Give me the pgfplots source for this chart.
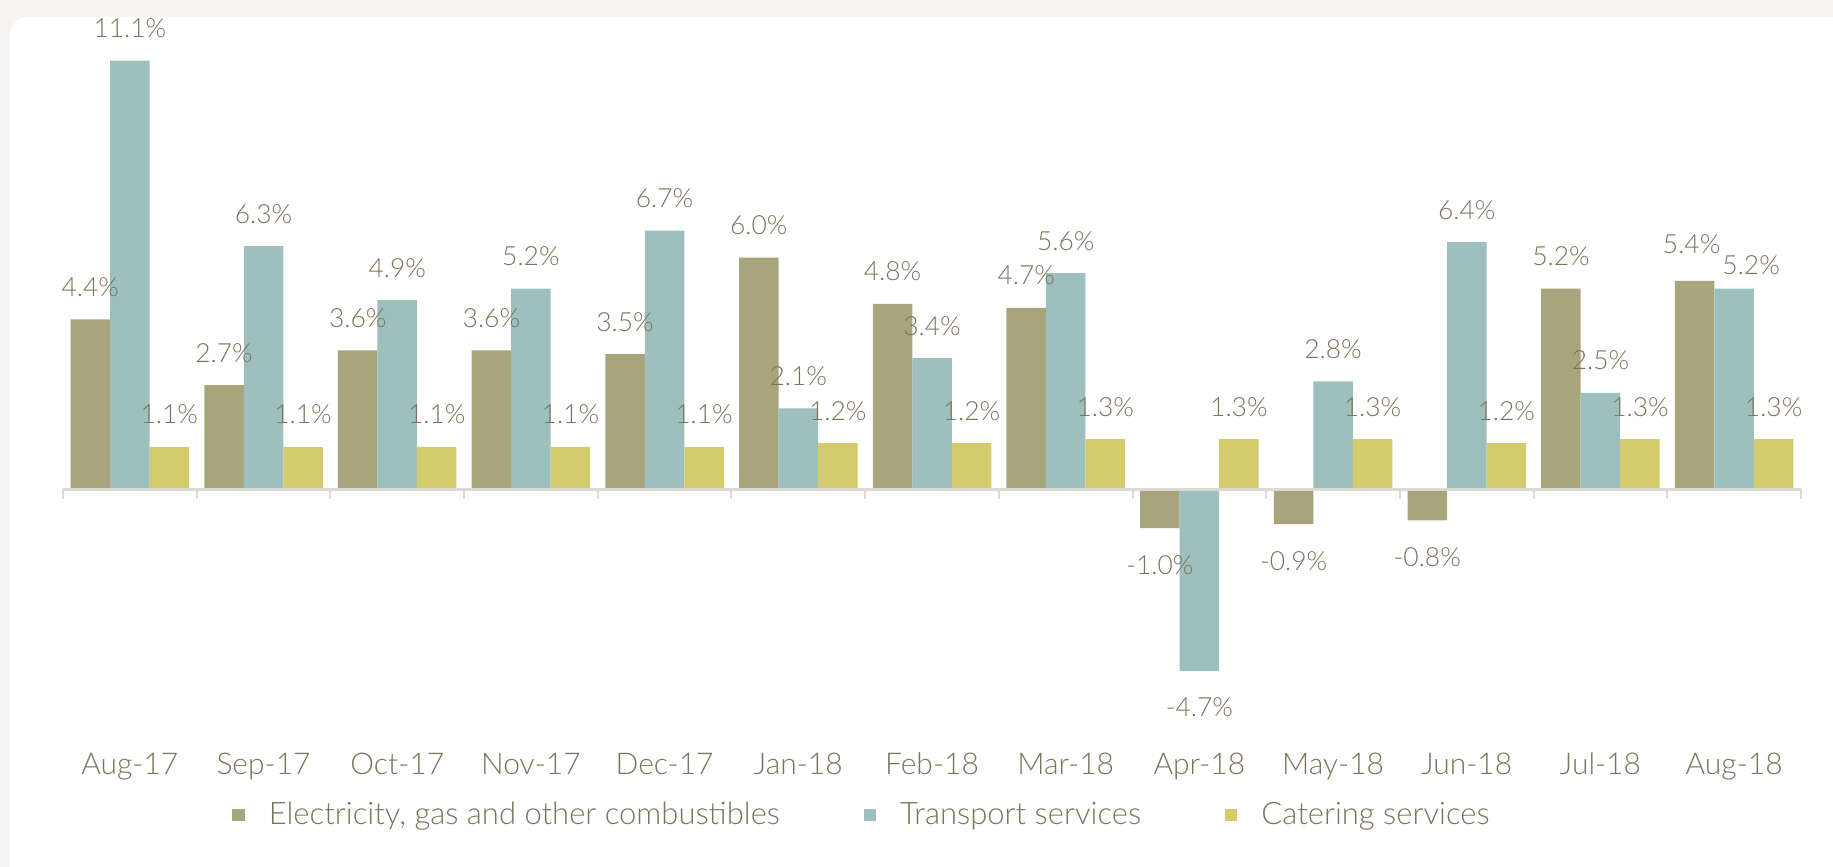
\documentclass[border=0pt]{standalone}
\usepackage{fontspec}
\setmainfont{Lato Light}
\usepackage{pgfplots}
\usepackage{pgfplotstable}
\pgfplotsset{compat=1.18}
\definecolor{olivebar}{RGB}{168,165,124}
\definecolor{tealbar}{RGB}{157,191,190}
\definecolor{yellowbar}{RGB}{211,203,108}
\definecolor{txt}{RGB}{125,115,92}
\definecolor{axisgray}{RGB}{220,217,210}
\definecolor{bggray}{RGB}{246,245,243}

\pgfplotstableread{
x y dx dy
0 4.4 0 11.5
1 2.7 0 11.5
2 3.6 0 11.5
3 3.6 0 11.5
4 3.5 0 11.5
5 6.0 0 11.5
6 4.8 0 11.5
7 4.7 0 11.5
8 -1.0 0 -23
9 -0.9 0 -23
10 -0.8 0 -23
11 5.2 0 11.5
12 5.4 -1.5 13.5
}\elec
\pgfplotstableread{
x y dx dy
0 11.1 0 11.5
1 6.3 0 11.5
2 4.9 0 11.5
3 5.2 0 11.5
4 6.7 0 11.5
5 2.1 0 11.5
6 3.4 0 11.5
7 5.6 0 11.5
8 -4.7 0 -23
9 2.8 0 11.5
10 6.4 0 11.5
11 2.5 0 11.5
12 5.2 8.5 7
}\transp
\pgfplotstableread{
x y dx dy
0 1.1 0 11.5
1 1.1 0 11.5
2 1.1 0 11.5
3 1.1 0 11.5
4 1.1 0 11.5
5 1.2 0 11.5
6 1.2 0 11.5
7 1.3 0 11.5
8 1.3 0 11.5
9 1.3 0 11.5
10 1.2 0 11.5
11 1.3 0 11.5
12 1.3 0 11.5
}\cater

\begin{document}
\begin{tikzpicture}
\useasboundingbox (-31.5pt,-59pt) rectangle (885pt,374.5pt);
\fill[bggray] (-40pt,-70pt) rectangle (900pt,380pt);
\fill[white, rounded corners=9pt] (-26.5pt,-80pt) rectangle (900pt,366pt);
\begin{axis}[
  at={(0pt,0pt)}, anchor=south west,
  scale only axis, width=869pt, height=366pt,
  xmin=-0.5, xmax=12.5, ymin=-6.72, ymax=12.23,
  clip=false,
  axis line style={draw=none},
  ytick=\empty,
  xtick={0,...,12},
  xticklabels={Aug-17,Sep-17,Oct-17,Nov-17,Dec-17,Jan-18,Feb-18,Mar-18,Apr-18,May-18,Jun-18,Jul-18,Aug-18},
  major tick length=0pt,
  x tick label style={anchor=base, yshift=-13pt, font=\fontsize{15}{18}\selectfont, text=txt},
  ybar=0pt, bar width=19.75pt,
  /pgf/number format/assume math mode=true,
  nodes near coords={\pgfmathprintnumber[fixed,fixed zerofill,precision=1]{\pgfplotspointmeta}\%},
  visualization depends on={\thisrow{dx} \as \dx},
  visualization depends on={\thisrow{dy} \as \dy},
  every node near coord/.append style={anchor=base, xshift=\dx pt, yshift=\dy pt, font=\fontsize{13.2}{16}\selectfont, text=txt, inner sep=0pt},
  legend image code/.code={\fill[#1,draw=none] (0pt,-3.1pt) rectangle (6.2pt,3.1pt);},
  legend columns=3,
  legend style={draw=none, fill=none, at={(0.4603,-0.0902)}, anchor=center,
    font=\fontsize{15.5}{18}\selectfont, text=txt,
    /tikz/every odd column/.append style={column sep=10pt},
    /tikz/every even column/.append style={column sep=40pt}},
]
\addplot[fill=olivebar, draw=none] table[x=x,y=y] {\elec};
\addplot[fill=tealbar, draw=none] table[x=x,y=y] {\transp};
\addplot[fill=yellowbar, draw=none] table[x=x,y=y] {\cater};
\legend{{Electricity, gas and other combustibles},{Transport services},{Catering services}}
\draw[axisgray, line width=1.3pt] (axis cs:-0.5,0) -- (axis cs:12.5,0);
\pgfplotsinvokeforeach{-0.5,0.5,...,12.5}{\draw[axisgray, line width=1pt] (axis cs:#1,0) -- ++(0pt,-5pt);}
\end{axis}
\end{tikzpicture}
\end{document}
